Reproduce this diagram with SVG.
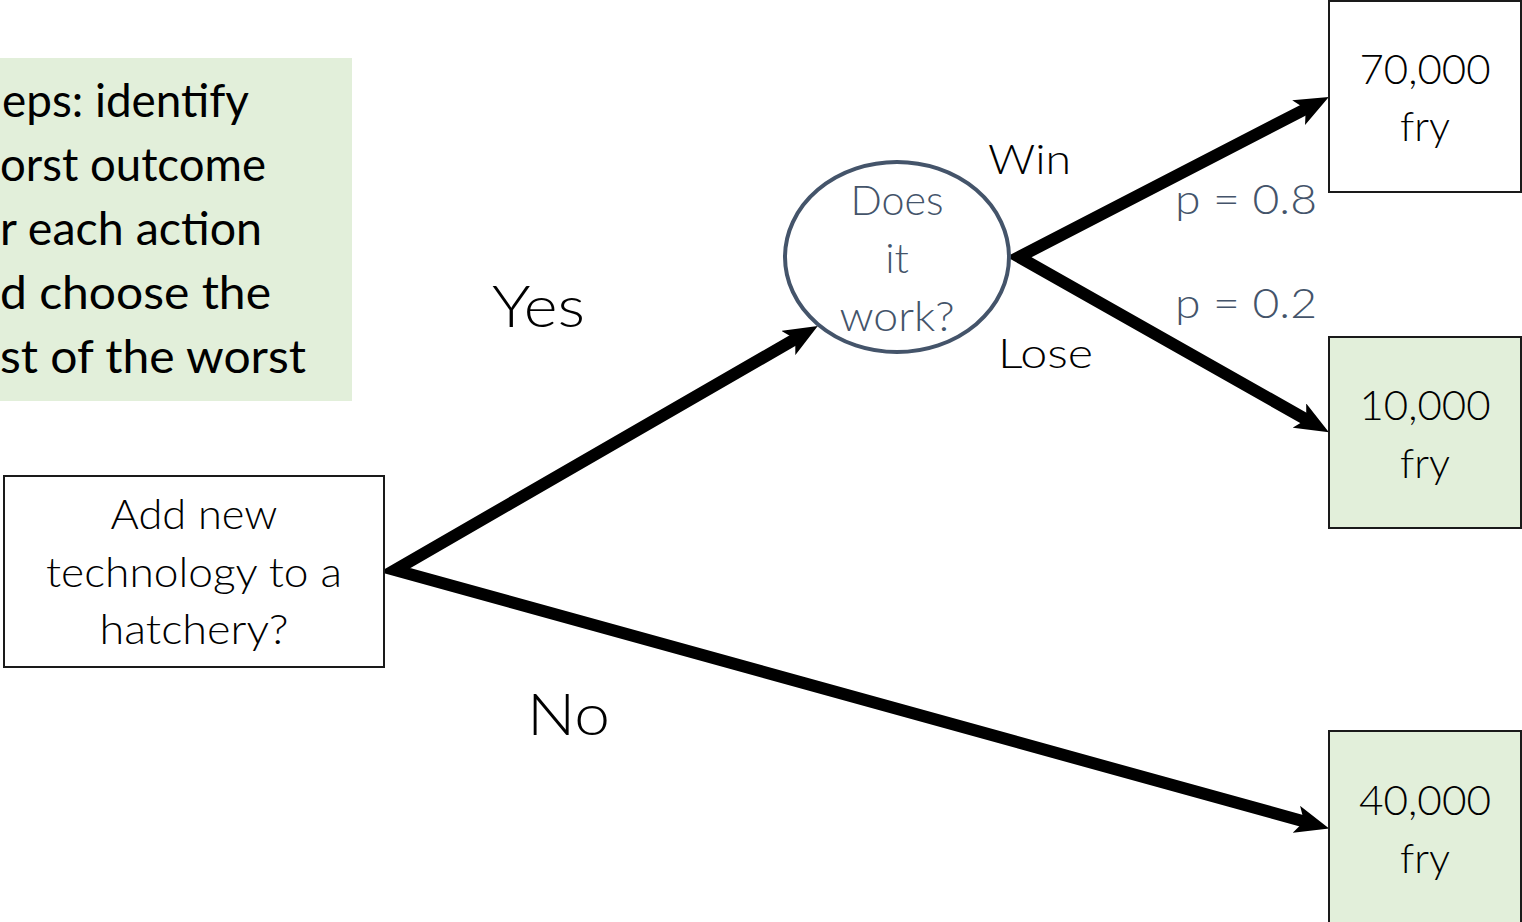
<svg xmlns="http://www.w3.org/2000/svg" width="1522" height="922" viewBox="0 0 1522 922">
  <style>
    .note { font-family: Lato, "Liberation Sans", sans-serif; font-size: 47px; fill: #000; }
    .lt { font-family: Lato, "Liberation Sans", sans-serif; font-weight: 300; fill: #000; }
    .mid { text-anchor: middle; }
    .box { stroke: #1a1a1a; stroke-width: 2; }
    .white { fill: #fff; }
    .green { fill: #E2EFDA; }
    .slate { fill: #44546A; }
    .conn { fill: none; stroke: #000; stroke-width: 12; stroke-linejoin: miter; stroke-miterlimit: 10; }
  </style>
  <defs>
    <marker id="stealth" markerUnits="userSpaceOnUse" viewBox="0 0 34 28" markerWidth="34" markerHeight="28" refX="10" refY="14" orient="auto-start-reverse">
      <path d="M0,0 L34,14 L0,28 L8,14 z" fill="#000"/>
    </marker>
  </defs>

  <rect width="1522" height="922" fill="#fff"/>

  <!-- explanatory note -->
  <g id="note">
    <rect x="-2" y="58" width="354" height="343" class="green"/>
    <text class="note" x="2" y="117" textLength="247" lengthAdjust="spacingAndGlyphs">eps: identify</text>
    <text class="note" x="0" y="181" textLength="266" lengthAdjust="spacingAndGlyphs">orst outcome</text>
    <text class="note" x="0" y="245" textLength="262" lengthAdjust="spacingAndGlyphs">r each action</text>
    <text class="note" x="0" y="309" textLength="271" lengthAdjust="spacingAndGlyphs">d choose the</text>
    <text class="note" x="0" y="373" textLength="306" lengthAdjust="spacingAndGlyphs">st of the worst</text>
  </g>

  <!-- connectors -->
  <g id="connectors">
    <path class="conn" d="M797,338 L395,570 L1306,822" marker-start="url(#stealth)" marker-end="url(#stealth)"/>
    <path class="conn" d="M1307.5,108 L1019,257 L1308,420.5" marker-start="url(#stealth)" marker-end="url(#stealth)"/>
  </g>

  <!-- decision node -->
  <g id="decision">
    <rect x="4" y="476" width="380" height="191" class="box white"/>
    <text class="lt mid" x="194" y="529" font-size="42" textLength="167" lengthAdjust="spacingAndGlyphs">Add new</text>
    <text class="lt mid" x="194" y="587" font-size="42" textLength="296" lengthAdjust="spacingAndGlyphs">technology to a</text>
    <text class="lt mid" x="194" y="644" font-size="42" textLength="189" lengthAdjust="spacingAndGlyphs">hatchery?</text>
  </g>

  <!-- chance node -->
  <g id="chance">
    <ellipse cx="897" cy="257" rx="112" ry="95" fill="#fff" stroke="#44546A" stroke-width="4"/>
    <text class="lt mid slate" x="897" y="215" font-size="42" textLength="93" lengthAdjust="spacingAndGlyphs">Does</text>
    <text class="lt mid slate" x="897" y="273" font-size="42">it</text>
    <text class="lt mid slate" x="897" y="331" font-size="42" textLength="115" lengthAdjust="spacingAndGlyphs">work?</text>
  </g>

  <!-- outcomes -->
  <g id="outcome-win">
    <rect x="1329" y="1" width="192" height="191" class="box white"/>
    <text class="lt mid" x="1425" y="84" font-size="42" textLength="131" lengthAdjust="spacingAndGlyphs">70,000</text>
    <text class="lt mid" x="1425" y="141" font-size="42" textLength="50" lengthAdjust="spacingAndGlyphs">fry</text>
  </g>
  <g id="outcome-lose">
    <rect x="1329" y="337" width="192" height="191" class="box green"/>
    <text class="lt mid" x="1425" y="420" font-size="42" textLength="131" lengthAdjust="spacingAndGlyphs">10,000</text>
    <text class="lt mid" x="1425" y="478" font-size="42" textLength="50" lengthAdjust="spacingAndGlyphs">fry</text>
  </g>
  <g id="outcome-no">
    <rect x="1329" y="731" width="192" height="200" class="box green"/>
    <text class="lt mid" x="1425" y="815" font-size="42" textLength="132" lengthAdjust="spacingAndGlyphs">40,000</text>
    <text class="lt mid" x="1425" y="873" font-size="42" textLength="50" lengthAdjust="spacingAndGlyphs">fry</text>
  </g>

  <!-- branch labels -->
  <g id="labels">
    <text class="lt" x="492" y="327" font-size="58" textLength="93" lengthAdjust="spacingAndGlyphs">Yes</text>
    <text class="lt" x="527" y="735" font-size="58" textLength="83" lengthAdjust="spacingAndGlyphs">No</text>
    <text class="lt" x="988" y="174" font-size="42" textLength="83" lengthAdjust="spacingAndGlyphs">Win</text>
    <text class="lt" x="998" y="368" font-size="42" textLength="95" lengthAdjust="spacingAndGlyphs">Lose</text>
    <text class="lt slate" x="1175" y="214" font-size="42" textLength="142" lengthAdjust="spacingAndGlyphs">p = 0.8</text>
    <text class="lt slate" x="1175" y="318" font-size="42" textLength="142" lengthAdjust="spacingAndGlyphs">p = 0.2</text>
  </g>
</svg>
